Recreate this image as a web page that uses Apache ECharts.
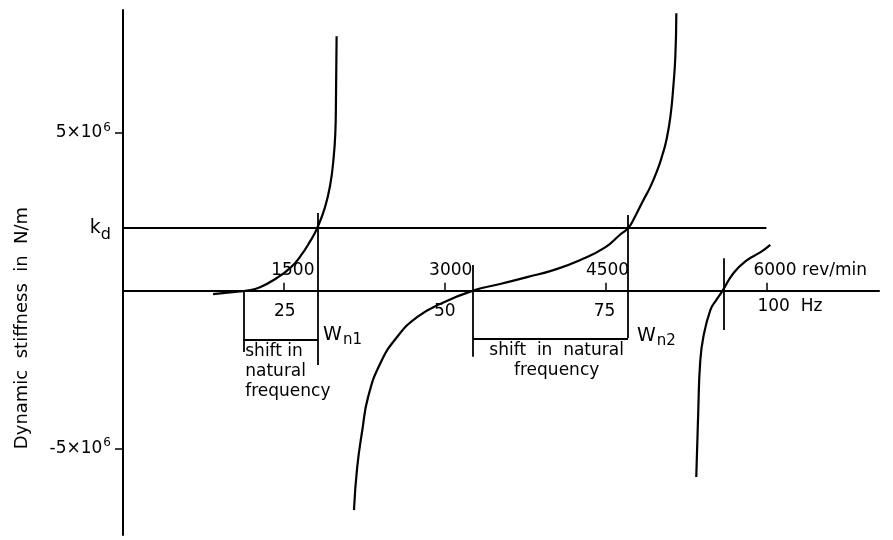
<!DOCTYPE html>
<html>
<head>
<meta charset="utf-8">
<script src="https://cdn.jsdelivr.net/npm/echarts@6/dist/echarts.min.js"></script>
<style>
  html, body { margin: 0; background: #fff; }
  #chart { width: 893px; height: 540px; }
</style>
</head>
<body>
<div id="chart"></div>
<script>
// frequency in Hz, dynamic stiffness in units of 10^6 N/m
const curve1Hz  = [14.0, 17.4, 19.3, 21.3, 23.9, 26.0, 27.5, 29.1, 30.2, 31.4, 32.2, 32.7, 33.0, 33.1, 33.2];
const curve1Val = [-0.11, -0.04, 0, 0.11, 0.40, 0.72, 1.07, 1.57, 1.99, 2.65, 3.35, 4.14, 5.0, 6.04, 8.07];

const curve2Hz  = [35.9, 36.4, 37.2, 38.1, 40.0, 42.6, 45.7, 49.3, 54.4, 58.6, 62.8, 66.9, 71.1, 75.0, 77.29, 78.54, 79.63,
                   80.87, 81.96, 83.05, 83.83, 84.45, 85.07, 85.54, 85.85, 86.0];
const curve2Val = [-6.96, -5.60, -4.42, -3.37, -2.30, -1.47, -0.84, -0.42, 0, 0.21, 0.43, 0.65, 0.97, 1.38, 1.78, 1.99, 2.37,
                   2.87, 3.29, 3.82, 4.30, 4.77, 5.50, 6.49, 7.44, 8.80];

const curve3Hz  = [89.1, 89.4, 89.7, 90.2, 91.3, 92.2, 93.2, 94.9, 97.0, 99.1, 100.6];
const curve3Val = [-5.91, -3.88, -2.29, -1.47, -0.61, -0.30, 0, 0.56, 0.97, 1.22, 1.45];

const kd = 2;           // stiffness level k_d
const kdEndHz = 100;

const tickHz = [25, 50, 75, 100];
const revLabels = ['1500', '3000', '4500', '6000 rev/min'];
const hzLabels = ['25', '50', '75', '100  Hz'];
const yTickVals = [-5, 5];

// vertical marker lines: frequency, upper end, lower end
const markerHz = [18.7, 30.3, 54.4, 78.5, 93.3];
const markerTop = [0, 2.46, 0.81, 2.4, 1.03];
const markerBottom = [-1.95, -2.36, -2.1, -1.5, -1.25];

// brackets marking the shift in natural frequency
const bracketFrom = [18.7, 54.4];
const bracketTo = [30.3, 78.5];
const bracketVal = [-1.57, -1.53];

const INK = '#000';
const FONT = '"DejaVu Sans", sans-serif';

const zip = (xs, ys) => xs.map((x, i) => [x, ys[i]]);

const curveStyle = { color: INK, width: 2.2 };

function curveSeries(name, xs, ys) {
  return {
    name: name,
    type: 'line',
    data: zip(xs, ys),
    showSymbol: false,
    smooth: 0.5,
    silent: true,
    lineStyle: curveStyle,
    itemStyle: { color: INK }
  };
}

const revShift = [9, 6, 2, -13];
const hzShift = [1, 0, -1, -9];

const textBase = { color: INK, opacity: 1, fontFamily: FONT, fontSize: 17 };

const chart = echarts.init(document.getElementById('chart'));

const segs = [];
markerHz.forEach((h, i) => {
  segs.push([{ coord: [h, markerTop[i]] }, { coord: [h, markerBottom[i]] }]);
});
bracketFrom.forEach((h, i) => {
  segs.push([{ coord: [h, bracketVal[i]] }, { coord: [bracketTo[i], bracketVal[i]] }]);
});
segs.push([{ coord: [0, kd] }, { coord: [kdEndHz, kd] }]);

const labelItems = [];
tickHz.forEach((h, i) => {
  const last = i === tickHz.length - 1;
  labelItems.push({
    value: [h, 0],
    label: Object.assign({}, textBase, {
      show: true, position: 'inside', formatter: revLabels[i],
      align: last ? 'left' : 'center', verticalAlign: 'middle',
      offset: [revShift[i], -20]
    })
  });
  labelItems.push({
    value: [h, 0],
    label: Object.assign({}, textBase, {
      show: true, position: 'inside', formatter: hzLabels[i],
      align: last ? 'left' : 'center', verticalAlign: 'middle',
      offset: [hzShift[i], last ? 16 : 21]
    })
  });
});

// annotations
const notes = [
  { at: [19.0, -1.63], text: 'shift in\nnatural\nfrequency', align: 'left', v: 'top' },
  { at: [67.4, -1.57], text: 'shift  in  natural\nfrequency', align: 'center', v: 'top' },
  { at: [31.1, -1.41], text: '{w|W}{sub|n1}', align: 'left', v: 'middle' },
  { at: [79.9, -1.44], text: '{w|W}{sub|n2}', align: 'left', v: 'middle' }
];
notes.forEach(n => {
  labelItems.push({
    value: n.at,
    label: Object.assign({}, textBase, {
      show: true, position: 'inside', formatter: n.text,
      align: n.align, verticalAlign: n.v, lineHeight: 20, fontSize: 17,
      rich: {
        w: { fontFamily: FONT, fontSize: 19, color: INK },
        sub: { fontFamily: FONT, fontSize: 15, color: INK, padding: [10, 0, 0, 1] }
      }
    })
  });
});

const option = {
  animation: false,
  backgroundColor: '#fff',
  grid: { left: 123, right: 14, top: 10, bottom: 5, containLabel: false },
  xAxis: {
    type: 'value',
    min: 0,
    max: 117.5,
    axisLine: { onZero: true, lineStyle: { color: INK, width: 2 } },
    axisTick: { show: true, inside: true, length: 8, customValues: tickHz, lineStyle: { color: INK, width: 1.5 } },
    axisLabel: { show: false },
    splitLine: { show: false }
  },
  yAxis: {
    type: 'value',
    min: -7.75,
    max: 8.9,
    axisLine: { show: true, onZero: false, lineStyle: { color: INK, width: 2 } },
    axisTick: { show: true, length: 8, customValues: yTickVals, lineStyle: { color: INK, width: 1.5 } },
    axisLabel: {
      customValues: [-5, kd, 5],
      margin: 12,
      color: INK,
      fontFamily: FONT,
      fontSize: 17,
      formatter: v => v === kd ? '{k|k}{sub|d}' : (v < 0 ? '-' : '') + '5×10{sup|6}',
      rich: {
        k: { fontFamily: FONT, fontSize: 19, color: INK },
        sub: { fontFamily: FONT, fontSize: 16, color: INK, padding: [14, 0, 0, 0] },
        sup: { fontFamily: FONT, fontSize: 12, color: INK, padding: [0, 0, 10, 1] }
      }
    },
    splitLine: { show: false }
  },
  graphic: [{
    type: 'text',
    x: 22,
    y: 328,
    rotation: Math.PI / 2,
    style: {
      text: 'Dynamic  stiffness  in  N/m',
      fill: INK,
      font: '18px ' + FONT,
      align: 'center',
      verticalAlign: 'middle'
    }
  }],
  series: [
    curveSeries('branch 1', curve1Hz, curve1Val),
    curveSeries('branch 2', curve2Hz, curve2Val),
    curveSeries('branch 3', curve3Hz, curve3Val),
    {
      name: 'guides',
      type: 'line',
      data: [],
      silent: true,
      markLine: {
        silent: true,
        symbol: 'none',
        animation: false,
        label: { show: false },
        lineStyle: { color: INK, width: 1.8, type: 'solid', opacity: 1 },
        emphasis: { disabled: true },
        data: segs
      }
    },
    {
      name: 'labels',
      type: 'scatter',
      symbolSize: 0,
      silent: true,
      itemStyle: { opacity: 1 },
      data: labelItems
    }
  ]
};

chart.setOption(option);
window.addEventListener('resize', () => chart.resize());
</script>
</body>
</html>
